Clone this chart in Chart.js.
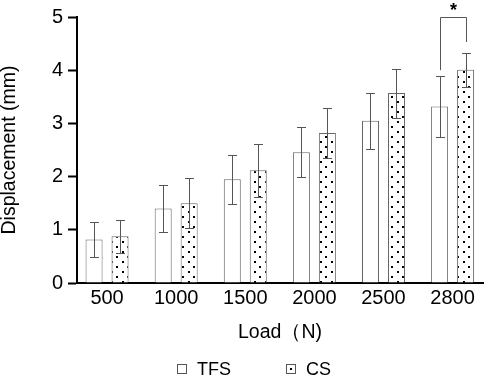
<!DOCTYPE html>
<html>
<head>
<meta charset="utf-8">
<script src="https://cdn.jsdelivr.net/npm/chart.js@4"></script>
<style>
  body { margin: 0; background: #fff; }
  #wrap { width: 484px; height: 378px; }
</style>
</head>
<body>
<div id="wrap"><canvas id="loadChart" width="484" height="378"></canvas></div>
<script>
const loads = ['500', '1000', '1500', '2000', '2500', '2800'];
const tfsMean = [0.82, 1.40, 1.95, 2.46, 3.05, 3.32];
const tfsSd = [0.33, 0.44, 0.46, 0.47, 0.53, 0.58];
const csMean = [0.88, 1.50, 2.12, 2.82, 3.57, 4.01];
const csSd = [0.31, 0.47, 0.50, 0.47, 0.46, 0.32];
const yTicks = [0, 1, 2, 3, 4, 5];
const sigIndex = 5;      // the 2800 N pair is marked with *

const font = "Arial, 'Liberation Sans', sans-serif";

/*Dot pattern for CS bars*/
function dotPattern() {
  const tile = document.createElement('canvas');
  tile.width = 11;
  tile.height = 10;
  const t = tile.getContext('2d');
  t.fillStyle = '#fff';
  t.fillRect(0, 0, 11, 10);
  t.fillStyle = '#000';
  t.fillRect(1, 1, 2, 2);
  t.fillRect(6, 6, 2, 2);
  return t.createPattern(tile, 'repeat');
}

const ctx = document.getElementById('loadChart').getContext('2d');
const csFill = dotPattern();

/*Error bars*/
const errorBars = {
  id: 'errorBars',
  afterDatasetsDraw(chart) {
    const c = chart.ctx;
    const y = chart.scales.y;
    const sds = [tfsSd, csSd];
    const means = [tfsMean, csMean];
    c.save();
    c.strokeStyle = '#555';
    c.lineWidth = 1;
    chart.data.datasets.forEach((ds, d) => {
      chart.getDatasetMeta(d).data.forEach((bar, i) => {
        const x = Math.round(bar.x) + 0.5;
        const top = Math.round(y.getPixelForValue(means[d][i] + sds[d][i])) + 0.5;
        const bot = Math.round(y.getPixelForValue(means[d][i] - sds[d][i])) + 0.5;
        c.beginPath();
        c.moveTo(x, top); c.lineTo(x, bot);
        c.moveTo(x - 4.5, top); c.lineTo(x + 4.5, top);
        c.moveTo(x - 4.5, bot); c.lineTo(x + 4.5, bot);
        c.stroke();
      });
    });

    /*Significance bracket*/
    const left = Math.round(chart.getDatasetMeta(0).data[sigIndex].x) + 0.5;
    const right = Math.round(chart.getDatasetMeta(1).data[sigIndex].x) + 0.5;
    const top = Math.round(y.getPixelForValue(5)) + 0.5;
    const leftEnd = y.getPixelForValue(tfsMean[sigIndex] + tfsSd[sigIndex] + 0.1);
    const rightEnd = y.getPixelForValue(csMean[sigIndex] + csSd[sigIndex] + 0.2);
    c.beginPath();
    c.moveTo(left, leftEnd); c.lineTo(left, top);
    c.lineTo(right, top); c.lineTo(right, rightEnd);
    c.stroke();
    c.fillStyle = '#000';
    c.font = 'bold 18px ' + font;
    c.textAlign = 'center';
    c.textBaseline = 'alphabetic';
    c.fillText('*', (left + right) / 2, 16);
    c.restore();
  }
};

/*Legend at the bottom*/
const bottomLegend = {
  id: 'bottomLegend',
  afterDraw(chart) {
    const c = chart.ctx;
    const spots = [177, 286];
    c.save();
    c.font = '18px ' + font;
    c.textBaseline = 'middle';
    c.textAlign = 'left';
    chart.data.datasets.forEach((ds, d) => {
      const bx = spots[d];
      c.strokeStyle = '#555';
      c.lineWidth = 1;
      c.fillStyle = '#fff';
      c.fillRect(bx + 0.5, 364.5, 9, 9);
      c.strokeRect(bx + 0.5, 364.5, 9, 9);
      if (d === 1) {
        c.fillStyle = '#000';
        c.fillRect(bx + 4, 368, 2, 2);
      }
      c.fillStyle = '#000';
      c.fillText(ds.label, bx + 20, 370);
    });
    c.restore();
  }
};

const loadChart = new Chart(ctx, {
  type: 'bar',
  data: {
    datasets: [{
      label: 'TFS',
      data: tfsMean.map((v, i) => ({ x: i, y: v })),
      backgroundColor: '#fff',
      borderColor: '#666',
      borderWidth: 1
    }, {
      label: 'CS',
      data: csMean.map((v, i) => ({ x: i, y: v })),
      backgroundColor: csFill,
      borderColor: '#666',
      borderWidth: 1
    }]
  },
  options: {
    responsive: false,
    animation: false,
    devicePixelRatio: 1,
    categoryPercentage: 0.752,
    barPercentage: 0.654,
    layout: { padding: { top: 13, right: 1, left: 0, bottom: 0 } },
    plugins: {
      legend: { display: false },
      tooltip: { enabled: false }
    },
    scales: {
      x: {
        type: 'linear',
        offset: false,
        z: 1,
        min: -0.435,
        max: 5.44,
        afterBuildTicks: (s) => { s.ticks = loads.map((_, i) => ({ value: i })); },
        afterFit: (s) => { s.height = 95; },
        ticks: {
          callback: (v) => loads[v],
          font: { family: font, size: 20 },
          color: '#000',
          padding: 3,
          maxRotation: 0,
          autoSkip: false
        },
        grid: { display: false, drawTicks: false, offset: false },
        border: { color: '#000', width: 2 },
        title: {
          display: true,
          text: 'Load（N)',
          font: { family: font, size: 19.5 },
          color: '#000',
          padding: { top: 4, bottom: 34 }
        }
      },
      y: {
        z: 1,
        min: 0,
        max: 5,
        afterBuildTicks: (s) => { s.ticks = yTicks.map(v => ({ value: v })); },
        afterFit: (s) => { s.width = 77; },
        ticks: {
          font: { family: font, size: 20 },
          color: '#000',
          padding: 5
        },
        grid: {
          drawOnChartArea: false,
          tickLength: 9,
          tickWidth: 2,
          tickColor: '#000'
        },
        border: { color: '#000', width: 2 },
        title: {
          display: true,
          text: 'Displacement (mm)',
          font: { family: font, size: 19.5, lineHeight: 1 },
          color: '#000',
          padding: 0
        }
      }
    }
  },
  plugins: [errorBars, bottomLegend]
});
</script>
</body>
</html>
